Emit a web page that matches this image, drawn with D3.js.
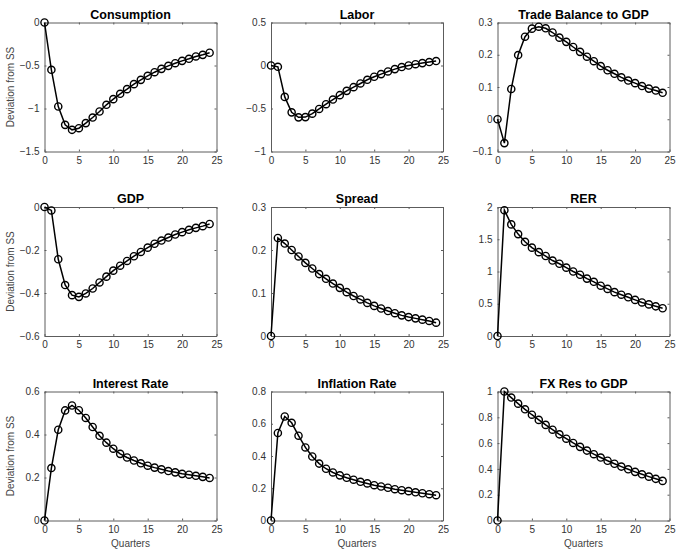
<!DOCTYPE html>
<meta charset="utf-8">
<html lang="en">
<head>
    <title>Impulse responses</title>
    <script src="https://cdn.jsdelivr.net/npm/d3@7"></script>
</head>
<style>
    body { margin: 0; background: #fff; }
    text { font-family: "Liberation Sans", Arial, sans-serif; }
    .tick text { font-size: 10px; fill: #333; }
    .title { font-size: 12.5px; font-weight: bold; text-anchor: middle; fill: #000; }
    .axlabel { font-size: 10px; fill: #444; text-anchor: middle; }
</style>
<body>
<script>
    var quarters = d3.range(0, 25);

    var titles = ["Consumption", "Labor", "Trade Balance to GDP",
                  "GDP", "Spread", "RER",
                  "Interest Rate", "Inflation Rate", "FX Res to GDP"];

    var yDomains = [[-1.5, 0], [-1, 0.5], [-0.1, 0.3],
                    [-0.6, 0], [0, 0.3], [0, 2],
                    [0, 0.6], [0, 0.8], [0, 1]];

    var yTicks = [[-1.5, -1, -0.5, 0], [-1, -0.5, 0, 0.5], [-0.1, 0, 0.1, 0.2, 0.3],
                  [-0.6, -0.4, -0.2, 0], [0, 0.1, 0.2, 0.3], [0, 0.5, 1, 1.5, 2],
                  [0, 0.2, 0.4, 0.6], [0, 0.2, 0.4, 0.6, 0.8], [0, 0.2, 0.4, 0.6, 0.8, 1]];

    var xTicks = [0, 5, 10, 15, 20, 25];

    var consumption = [0, -0.55, -0.977, -1.19, -1.248, -1.229, -1.17, -1.105, -1.035, -0.957,
        -0.891, -0.829, -0.775, -0.717, -0.667, -0.62, -0.578, -0.539, -0.504, -0.473,
        -0.446, -0.422, -0.395, -0.376, -0.352];
    var labor = [0, -0.015, -0.365, -0.545, -0.603, -0.6, -0.56, -0.505, -0.45, -0.396,
        -0.345, -0.295, -0.252, -0.209, -0.166, -0.131, -0.1, -0.069, -0.042, -0.018,
        0.0, 0.015, 0.028, 0.04, 0.052];
    var tradeBalance = [0, -0.074, 0.094, 0.199, 0.256, 0.281, 0.287, 0.282, 0.269, 0.253,
        0.24, 0.224, 0.209, 0.194, 0.18, 0.165, 0.152, 0.141, 0.13, 0.12,
        0.112, 0.103, 0.095, 0.089, 0.082];
    var gdp = [0, -0.016, -0.243, -0.363, -0.41, -0.418, -0.402, -0.379, -0.351, -0.324,
        -0.296, -0.273, -0.251, -0.229, -0.209, -0.189, -0.171, -0.156, -0.142, -0.128,
        -0.117, -0.106, -0.097, -0.089, -0.079];
    var spread = [0, 0.228, 0.215, 0.2, 0.185, 0.17, 0.157, 0.144, 0.133, 0.122,
        0.112, 0.102, 0.093, 0.085, 0.077, 0.07, 0.064, 0.058, 0.053, 0.048,
        0.044, 0.041, 0.038, 0.035, 0.031];
    var rer = [0, 1.95, 1.73, 1.58, 1.46, 1.37, 1.3, 1.24, 1.17, 1.12,
        1.06, 1.0, 0.95, 0.89, 0.84, 0.78, 0.73, 0.68, 0.64, 0.6,
        0.56, 0.52, 0.49, 0.46, 0.43];
    var interestRate = [0, 0.244, 0.422, 0.512, 0.535, 0.513, 0.477, 0.435, 0.394, 0.362,
        0.334, 0.31, 0.293, 0.279, 0.266, 0.255, 0.246, 0.238, 0.23, 0.224,
        0.217, 0.213, 0.208, 0.203, 0.198];
    var inflation = [0, 0.543, 0.645, 0.606, 0.526, 0.453, 0.397, 0.353, 0.321, 0.298,
        0.28, 0.265, 0.253, 0.24, 0.23, 0.219, 0.211, 0.203, 0.194, 0.188,
        0.182, 0.175, 0.169, 0.163, 0.157];
    var fxRes = [0, 1.0, 0.953, 0.906, 0.862, 0.82, 0.78, 0.741, 0.704, 0.668,
        0.634, 0.601, 0.571, 0.542, 0.514, 0.488, 0.463, 0.44, 0.418, 0.397,
        0.377, 0.358, 0.34, 0.323, 0.307];

    var series = [consumption, labor, tradeBalance, gdp, spread, rer, interestRate, inflation, fxRes];

    var W = 676, H = 551;
    var colX = [44.5, 271, 497.5], rowY = [22.5, 207, 391.5];
    var pw = 172, ph = 129;

    var svg = d3.select("body").append("svg").attr("width", W).attr("height", H);

    titles.forEach(function (title, i) {
        var col = i % 3, row = Math.floor(i / 3);
        var g = svg.append("g").attr("transform", "translate(" + colX[col] + "," + rowY[row] + ")");

        var x = d3.scaleLinear().domain([0, 25]).range([0, pw]);
        var y = d3.scaleLinear().domain(yDomains[i]).range([ph, 0]);

        // axes: ticks inside, box on all four sides
        var fmt = d3.format("");
        g.append("g").attr("transform", "translate(0," + ph + ")")
            .call(d3.axisBottom(x).tickValues(xTicks).tickSizeInner(-2).tickSizeOuter(0).tickPadding(5));
        g.append("g")
            .call(d3.axisTop(x).tickValues(xTicks).tickSizeInner(-2).tickSizeOuter(0).tickFormat(""));
        g.append("g")
            .call(d3.axisLeft(y).tickValues(yTicks[i]).tickSizeInner(-2).tickSizeOuter(0).tickPadding(5).tickFormat(fmt));
        g.append("g").attr("transform", "translate(" + pw + ",0)")
            .call(d3.axisRight(y).tickValues(yTicks[i]).tickSizeInner(-2).tickSizeOuter(0).tickFormat(""));
        g.selectAll(".domain, .tick line").attr("stroke", "#5c5c5c").attr("stroke-width", 1);

        var line = d3.line().x(function (d, k) { return x(quarters[k]); }).y(function (d) { return y(d); });
        g.append("path").datum(series[i])
            .attr("d", line).attr("fill", "none").attr("stroke", "#000").attr("stroke-width", 1.5);

        g.selectAll("circle").data(series[i]).enter().append("circle")
            .attr("cx", function (d, k) { return x(quarters[k]); })
            .attr("cy", function (d) { return y(d); })
            .attr("r", 3.6)
            .attr("fill", "none").attr("stroke", "#000").attr("stroke-width", 1.4);

        g.append("text").attr("class", "title").attr("x", pw / 2).attr("y", -4).text(title);

        if (col === 0) {
            g.append("text").attr("class", "axlabel")
                .attr("transform", "translate(" + (-31) + "," + (ph / 2) + ") rotate(-90)")
                .text("Deviation from SS");
        }
        if (row === 2) {
            g.append("text").attr("class", "axlabel")
                .attr("x", pw / 2).attr("y", ph + 26).text("Quarters");
        }
    });
</script>
</body>
</html>
